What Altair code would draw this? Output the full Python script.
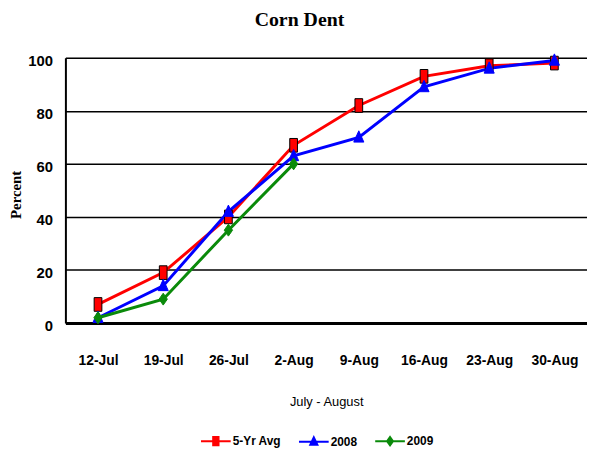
import altair as alt
import pandas as pd

dates = ["12-Jul", "19-Jul", "26-Jul", "2-Aug", "9-Aug", "16-Aug", "23-Aug", "30-Aug"]
avg5 = [7, 19, 40, 67, 82, 93, 97, 98]
y2008 = [2, 14, 42, 63, 70, 89, 96, 99]
y2009 = [2, 9, 35, 60]
series = ["5-Yr Avg", "2008", "2009"]
colors = ["#FF0000", "#0000FF", "#0A8A0A"]

rows = []
for name, vals in zip(series, [avg5, y2008, y2009]):
    for d, v in zip(dates, vals):
        rows.append({"date": d, "value": v, "series": name})
df = pd.DataFrame(rows)

SANS = "Liberation Sans, Arial, sans-serif"
SERIF = "Liberation Serif, Times New Roman, serif"

# marker paths (unit box)
sq_path = "M-0.65,-1.15H0.65V1.15H-0.65Z"
tri_path = "M0,-1.1L0.85,0.8L-0.85,0.8Z"
dia_path = "M0,-1L0.7,0L0,1L-0.7,0Z"
# legend symbol paths: line + marker
leg_paths = [
    "M-1,0H-0.18M0.18,0H1M-0.18,-0.28H0.18V0.28H-0.18Z",
    "M-1,0H1M0,-0.3L0.24,0.2L-0.24,0.2Z",
    "M-1,0H1M0,-0.28L0.2,0L0,0.28L-0.2,0Z",
]

x_enc = alt.X(
    "date:N",
    sort=dates,
    scale=alt.Scale(type="point", padding=0.5),
    axis=alt.Axis(
        title="July - August",
        labelAngle=0,
        labelFont=SANS,
        labelFontSize=14,
        labelFontWeight="bold",
        labelColor="black",
        labelPadding=31,
        ticks=False,
        grid=False,
        domainColor="black",
        domainWidth=3,
        titleFont=SANS,
        titleFontSize=13,
        titleFontWeight="normal",
        titleColor="black",
        titleY=73,
        titleBaseline="top",
    ),
)
y_enc = alt.Y(
    "value:Q",
    scale=alt.Scale(domain=[0, 100], nice=False),
    axis=alt.Axis(
        title="Percent",
        values=[0, 20, 40, 60, 80, 100],
        labelFont=SANS,
        labelFontSize=15,
        labelFontWeight="bold",
        labelColor="black",
        labelPadding=13,
        labelOffset=3,
        ticks=False,
        grid=True,
        gridColor="black",
        gridWidth=1.5,
        domainColor="black",
        domainWidth=2,
        titleFont=SERIF,
        titleFontSize=15,
        titleFontWeight="bold",
        titleColor="black",
        titleAngle=270,
        titleX=-50,
        titleY=138,
        titleAlign="center",
        titleBaseline="middle",
    ),
)

color_scale = alt.Scale(domain=series, range=colors)

base = alt.Chart(df)

line_layers = []
marker_layers = []
for name, col, path, stroke in zip(series, colors, [sq_path, tri_path, dia_path], ["black", colors[1], colors[2]]):
    sub = base.transform_filter(alt.datum.series == name)
    line_layers.append(
        sub.mark_line(strokeWidth=3, color=col).encode(x=x_enc, y=y_enc)
    )
    marker_layers.append(
        sub.mark_point(shape=path, filled=True, size=144, opacity=1, stroke=stroke, strokeWidth=1, fill=col)
        .encode(x=x_enc, y=y_enc)
    )

legend = alt.Legend(
    title=None,
    orient="none",
    direction="horizontal",
    legendX=136,
    legendY=371,
    symbolSize=900,
    symbolStrokeWidth=2,
    symbolOpacity=1,
    labelFont=SANS,
    labelFontSize=12,
    labelFontWeight="bold",
    labelColor="black",
    labelOffset=1,
    columnPadding=14,
)

dummy = (
    base.mark_point(filled=True, size=0)
    .encode(
        x=x_enc,
        y=y_enc,
        fill=alt.Fill("series:N", scale=color_scale, legend=legend),
        stroke=alt.Stroke("series:N", scale=color_scale, legend=legend),
        shape=alt.Shape("series:N", scale=alt.Scale(domain=series, range=leg_paths), legend=legend),
    )
)

chart = (
    alt.layer(*line_layers, *marker_layers, dummy)
    .properties(
        width=527,
        height=268,
        title=alt.TitleParams(
            "Corn Dent",
            font=SERIF,
            fontSize=20,
            fontWeight="bold",
            color="black",
            anchor="middle",
            dx=-27,
            offset=22,
        ),
        autosize=alt.AutoSizeParams(type="none"),
        padding={"left": 58, "top": 48, "right": 0, "bottom": 125},
    )
    .configure_view(stroke="#888888", strokeWidth=1)
    .configure(background="white")
)

chart.save("out.html", embed_options={"renderer": "svg", "actions": False})
